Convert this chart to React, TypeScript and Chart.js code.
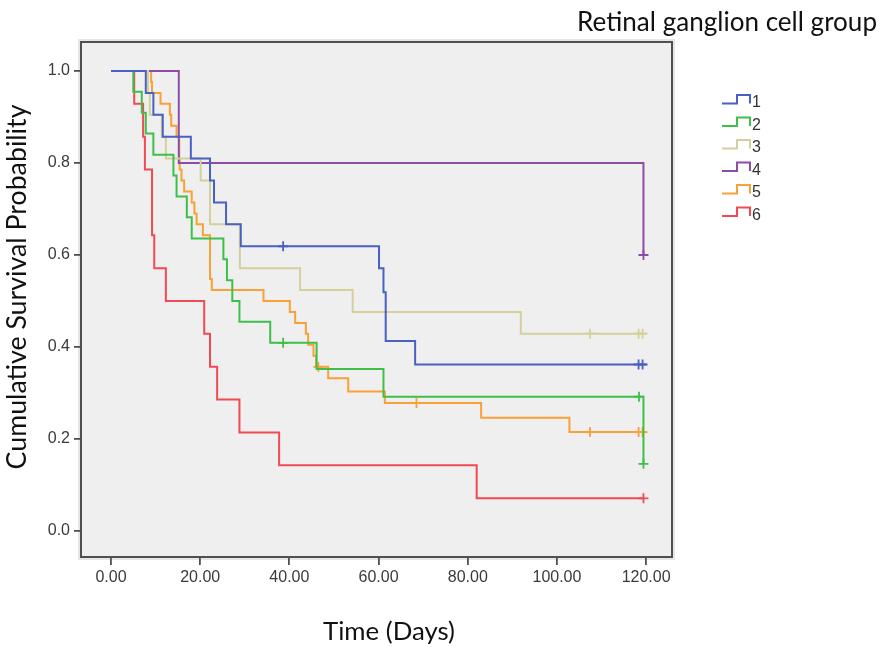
import React, { useEffect, useRef } from "react";
import { Chart, registerables } from "chart.js";

Chart.register(...registerables);

// ---------- data ----------
const groupLabels = ["1", "2", "3", "4", "5", "6"];
const groupColors = ["#4a60c2", "#3ebf4a", "#d4d09c", "#8d4ca6", "#f9a136", "#f04a54"];

const g1Times = [0, 7.8, 9.5, 11.6, 17.9, 22.2, 23.1, 25.8, 29.1, 60.1, 61.1, 61.6, 68.2, 120];
const g1Surv = [1, 0.952, 0.905, 0.857, 0.81, 0.762, 0.714, 0.667, 0.619, 0.571, 0.519, 0.413, 0.362, 0.362];
const g1CensorTimes = [38.6, 118.3, 119.2];
const g1CensorSurv = [0.619, 0.362, 0.362];

const g2Times = [0, 5.0, 6.9, 7.8, 9.5, 14.0, 14.7, 17.0, 18.1, 25.2, 26.0, 27.2, 28.8, 35.7, 46.1, 61.1, 119.4];
const g2Surv = [1, 0.955, 0.909, 0.864, 0.818, 0.773, 0.727, 0.682, 0.636, 0.591, 0.545, 0.5, 0.455, 0.409, 0.352, 0.292, 0.146];
const g2CensorTimes = [38.6, 118.4, 119.4];
const g2CensorSurv = [0.409, 0.292, 0.146];

const g3Times = [0, 8.3, 8.7, 11.4, 12.3, 20.1, 22.2, 28.9, 42.4, 54.2, 91.9, 120];
const g3Surv = [1, 0.952, 0.905, 0.857, 0.81, 0.762, 0.667, 0.571, 0.524, 0.476, 0.429, 0.429];
const g3CensorTimes = [107.4, 118.3, 119.2];
const g3CensorSurv = [0.429, 0.429, 0.429];

const g4Times = [0, 15.2, 119.4];
const g4Surv = [1, 0.8, 0.6];
const g4CensorTimes = [119.4];
const g4CensorSurv = [0.6];

const g5Times = [0, 9.0, 9.2, 11.1, 13.2, 13.5, 14.7, 15.3, 15.4, 15.8, 16.4, 18.1, 18.7, 19.2, 20.6, 22.2, 22.6, 34.2, 40.1, 41.3, 43.7, 44.2, 45.4, 46.0, 48.7, 53.2, 61.4, 83.0, 102.8, 120];
const g5Surv = [1, 0.976, 0.952, 0.929, 0.905, 0.881, 0.857, 0.81, 0.786, 0.762, 0.738, 0.714, 0.69, 0.667, 0.643, 0.548, 0.524, 0.5, 0.476, 0.452, 0.429, 0.405, 0.381, 0.357, 0.332, 0.303, 0.278, 0.246, 0.215, 0.215];
const g5CensorTimes = [46.5, 68.5, 107.4, 118.3, 119.2];
const g5CensorSurv = [0.357, 0.278, 0.215, 0.215, 0.215];

const g6Times = [0, 5.2, 7.2, 7.6, 9.2, 9.7, 12.3, 20.9, 22.2, 23.8, 28.8, 37.7, 82.0, 119.4];
const g6Surv = [1, 0.929, 0.857, 0.786, 0.643, 0.571, 0.5, 0.429, 0.357, 0.286, 0.214, 0.143, 0.071, 0.071];
const g6CensorTimes = [119.4];
const g6CensorSurv = [0.071];

const xTickValues = [0, 20, 40, 60, 80, 100, 120];
const xTickLabels = ["0.00", "20.00", "40.00", "60.00", "80.00", "100.00", "120.00"];
const yTickValues = [0, 0.2, 0.4, 0.6, 0.8, 1.0];
const yTickLabels = ["0.0", "0.2", "0.4", "0.6", "0.8", "1.0"];

const legendTitle = "Retinal ganglion cell group";
const xTitle = "Time (Days)";
const yTitle = "Cumulative Survival Probability";

const groups = [
  [g1Times, g1Surv, g1CensorTimes, g1CensorSurv],
  [g2Times, g2Surv, g2CensorTimes, g2CensorSurv],
  [g3Times, g3Surv, g3CensorTimes, g3CensorSurv],
  [g4Times, g4Surv, g4CensorTimes, g4CensorSurv],
  [g5Times, g5Surv, g5CensorTimes, g5CensorSurv],
  [g6Times, g6Surv, g6CensorTimes, g6CensorSurv],
];

const TITLE_FONT = "Lato, 'Open Sans', sans-serif";
const TICK_FONT = "'Liberation Sans', Arial, sans-serif";

function fitSize(ctx: CanvasRenderingContext2D, text: string, family: string, width: number) {
  ctx.font = `100px ${family}`;
  const w = ctx.measureText(text).width;
  return (100 * width) / w;
}

const decorPlugin = {
  id: "decor",
  beforeDraw(chart: any) {
    const { ctx, chartArea: a } = chart;
    ctx.save();
    ctx.fillStyle = "#ffffff";
    ctx.fillRect(0, 0, chart.width, chart.height);
    ctx.fillStyle = "#e6e6e6";
    ctx.fillRect(a.left - 3, a.top - 3, a.right - a.left + 6, a.bottom - a.top + 6);
    ctx.fillStyle = "#efefef";
    ctx.fillRect(a.left, a.top, a.right - a.left, a.bottom - a.top);
    ctx.restore();
  },
  afterDraw(chart: any) {
    const { ctx, chartArea: a } = chart;
    ctx.save();
    // frame
    ctx.strokeStyle = "#505050";
    ctx.lineWidth = 2;
    ctx.strokeRect(a.left, a.top, a.right - a.left, a.bottom - a.top);

    // titles
    ctx.fillStyle = "#111";
    ctx.textBaseline = "middle";
    let s = fitSize(ctx, legendTitle, TITLE_FONT, 300);
    ctx.font = `${s}px ${TITLE_FONT}`;
    ctx.textAlign = "right";
    ctx.fillText(legendTitle, 877, 23);

    s = fitSize(ctx, xTitle, TITLE_FONT, 132);
    ctx.font = `${s}px ${TITLE_FONT}`;
    ctx.textAlign = "center";
    ctx.fillText(xTitle, 389, 632);

    s = fitSize(ctx, yTitle, TITLE_FONT, 365);
    ctx.font = `${s}px ${TITLE_FONT}`;
    ctx.save();
    ctx.translate(17, 287);
    ctx.rotate(-Math.PI / 2);
    ctx.textAlign = "center";
    ctx.fillText(yTitle, 0, 0);
    ctx.restore();

    // legend
    ctx.font = `16px ${TICK_FONT}`;
    ctx.textAlign = "left";
    groupLabels.forEach((lab, i) => {
      const yc = 102 + i * 22.5;
      ctx.strokeStyle = groupColors[i];
      ctx.lineWidth = 2;
      ctx.beginPath();
      ctx.moveTo(722, yc + 1.5);
      ctx.lineTo(737, yc + 1.5);
      ctx.lineTo(737, yc - 7);
      ctx.lineTo(750, yc - 7);
      ctx.lineTo(750, yc + 1.5);
      ctx.stroke();
      ctx.fillStyle = "#333";
      ctx.fillText(lab, 752, yc + 1);
    });
    ctx.restore();
  },
};

export default function App() {
  const ref = useRef<HTMLCanvasElement | null>(null);

  useEffect(() => {
    if (!ref.current) return;
    const datasets: any[] = [];
    groups.forEach(([times, surv, cT, cS], i) => {
      datasets.push({
        label: groupLabels[i],
        data: (times as number[]).map((t, k) => ({ x: t, y: (surv as number[])[k] })),
        borderColor: groupColors[i],
        borderWidth: 2,
        stepped: "before",
        pointRadius: 0,
        fill: false,
      });
      datasets.push({
        label: groupLabels[i] + " censored",
        data: (cT as number[]).map((t, k) => ({ x: t, y: (cS as number[])[k] })),
        showLine: false,
        borderColor: groupColors[i],
        backgroundColor: groupColors[i],
        pointStyle: "cross",
        pointRadius: 5,
        pointBorderWidth: 1.8,
        pointBorderColor: groupColors[i],
      });
    });

    const chart = new Chart(ref.current, {
      type: "line",
      data: { datasets },
      plugins: [decorPlugin],
      options: {
        animation: false,
        responsive: false,
        devicePixelRatio: 1,
        layout: { padding: { top: 42, right: 210, left: 0, bottom: 0 } },
        plugins: { legend: { display: false }, tooltip: { enabled: false }, title: { display: false } },
        scales: {
          x: {
            type: "linear",
            min: -6.73,
            max: 125.8,
            afterFit: (sc: any) => { sc.height = 90; },
            afterBuildTicks: (sc: any) => { sc.ticks = xTickValues.map((v) => ({ value: v })); },
            grid: { drawOnChartArea: false, drawTicks: true, tickLength: 8, color: "#505050", lineWidth: 1.8 },
            border: { display: false },
            ticks: {
              padding: 3,
              maxRotation: 0,
              autoSkip: false,
              color: "#3a3a3a",
              font: { size: 16, family: TICK_FONT },
              callback: (v: any, i: number) => xTickLabels[i],
            },
          },
          y: {
            type: "linear",
            min: -0.0565,
            max: 1.063,
            afterFit: (sc: any) => { sc.width = 81; },
            afterBuildTicks: (sc: any) => { sc.ticks = yTickValues.map((v) => ({ value: v })); },
            grid: { drawOnChartArea: false, drawTicks: true, tickLength: 7, color: "#505050", lineWidth: 1.8 },
            border: { display: false },
            ticks: {
              padding: 4,
              autoSkip: false,
              color: "#3a3a3a",
              font: { size: 16, family: TICK_FONT },
              callback: (v: any, i: number) => yTickLabels[i],
            },
          },
        },
      },
    } as any);
    return () => chart.destroy();
  }, []);

  return (
    <div style={{ position: "absolute", left: 0, top: 0, width: 882, height: 647 }}>
      <canvas ref={ref} width={882} height={647} style={{ display: "block" }} />
    </div>
  );
}
